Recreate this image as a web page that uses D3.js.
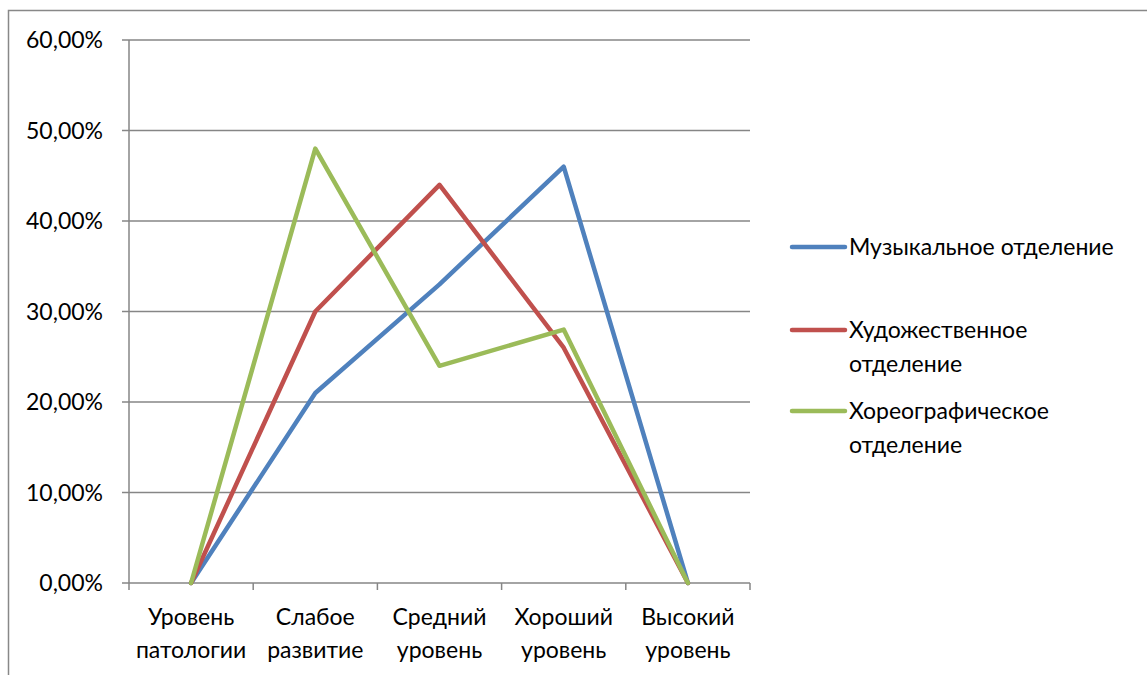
<!DOCTYPE html>
<html>
<head>
<meta charset="utf-8">
<script src="https://cdn.jsdelivr.net/npm/d3@7"></script>
<style>
  body { margin: 0; background: #fff; }
  svg { display: block; font-family: Lato, "Open Sans", sans-serif; }
</style>
</head>
<body>
<svg id="chart" width="1147" height="675"></svg>
<script>
// categories (two-line labels) and series values, in percent
var categories = [
  ['Уровень', 'патологии'],
  ['Слабое', 'развитие'],
  ['Средний', 'уровень'],
  ['Хороший', 'уровень'],
  ['Высокий', 'уровень']
];
var music = [0, 21, 33, 46, 0];
var art = [0, 30, 44, 26, 0];
var dance = [0, 48, 24, 28, 0];
var yTicks = [0, 10, 20, 30, 40, 50, 60];

var series = [
  { name: ['Музыкальное отделение'], values: music, color: '#4F81BD' },
  { name: ['Художественное', 'отделение'], values: art, color: '#C0504D' },
  { name: ['Хореографическое', 'отделение'], values: dance, color: '#9BBB59' }
];

var svg = d3.select('#chart');
var margin = { left: 129, top: 40, right: 750, bottom: 583 };
var fontSize = 23;

// outer chart border
svg.append('rect')
  .attr('x', 8.5).attr('y', 10.5)
  .attr('width', 1200).attr('height', 700)
  .attr('fill', 'none').attr('stroke', '#888').attr('stroke-width', 1.5);

var x = d3.scaleBand()
  .domain(d3.range(categories.length))
  .range([margin.left, margin.right]);

var y = d3.scaleLinear()
  .domain([0, 60])
  .range([margin.bottom, margin.top]);

// gridlines
svg.append('g')
  .selectAll('line')
  .data(yTicks)
  .enter().append('line')
  .attr('x1', margin.left - 7).attr('x2', margin.right)
  .attr('y1', function(d) { return y(d); })
  .attr('y2', function(d) { return y(d); })
  .attr('stroke', '#868686').attr('stroke-width', 1.5);

// y axis line
svg.append('line')
  .attr('x1', margin.left).attr('x2', margin.left)
  .attr('y1', margin.top).attr('y2', margin.bottom)
  .attr('stroke', '#868686').attr('stroke-width', 1.5);

// y tick labels
svg.append('g')
  .selectAll('text')
  .data(yTicks)
  .enter().append('text')
  .attr('x', 103)
  .attr('y', function(d) { return y(d); })
  .attr('dy', '0.35em')
  .attr('text-anchor', 'end')
  .attr('font-size', fontSize)
  .attr('fill', '#000')
  .text(function(d) { return d3.format('.2f')(d).replace('.', ',') + '%'; });

// x tick marks at band edges
var edges = d3.range(categories.length + 1).map(function(i) {
  return i < categories.length ? x(i) : x(i - 1) + x.bandwidth();
});
svg.append('g')
  .selectAll('line')
  .data(edges)
  .enter().append('line')
  .attr('x1', function(d) { return d; }).attr('x2', function(d) { return d; })
  .attr('y1', margin.bottom).attr('y2', margin.bottom + 7)
  .attr('stroke', '#868686').attr('stroke-width', 1.5);

// x labels
var xl = svg.append('g')
  .selectAll('text')
  .data(categories)
  .enter().append('text')
  .attr('x', function(d, i) { return x(i) + x.bandwidth() / 2; })
  .attr('y', 625)
  .attr('text-anchor', 'middle')
  .attr('font-size', fontSize)
  .attr('fill', '#000');
xl.each(function(d, i) {
  var t = d3.select(this);
  d.forEach(function(line, j) {
    t.append('tspan')
      .attr('x', x(i) + x.bandwidth() / 2)
      .attr('dy', j === 0 ? 0 : 33)
      .text(line);
  });
});

// lines
var line = d3.line()
  .x(function(d, i) { return x(i) + x.bandwidth() / 2; })
  .y(function(d) { return y(d); });

svg.append('g')
  .selectAll('path')
  .data(series)
  .enter().append('path')
  .attr('d', function(d) { return line(d.values); })
  .attr('fill', 'none')
  .attr('stroke', function(d) { return d.color; })
  .attr('stroke-width', 4.5)
  .attr('stroke-linejoin', 'round')
  .attr('stroke-linecap', 'round');

// legend
var legendY = [247, 330, 411];
var legend = svg.append('g')
  .selectAll('g')
  .data(series)
  .enter().append('g')
  .attr('transform', function(d, i) { return 'translate(0,' + legendY[i] + ')'; });

legend.append('line')
  .attr('x1', 792).attr('x2', 845)
  .attr('y1', 0).attr('y2', 0)
  .attr('stroke', function(d) { return d.color; })
  .attr('stroke-width', 4.5)
  .attr('stroke-linecap', 'round');

legend.append('text')
  .attr('x', 849)
  .attr('y', 0)
  .attr('font-size', fontSize)
  .attr('fill', '#000')
  .each(function(d) {
    var t = d3.select(this);
    d.name.forEach(function(n, j) {
      t.append('tspan').attr('x', 849).attr('dy', j === 0 ? '0.35em' : 34).text(n);
    });
  });
</script>
</body>
</html>
